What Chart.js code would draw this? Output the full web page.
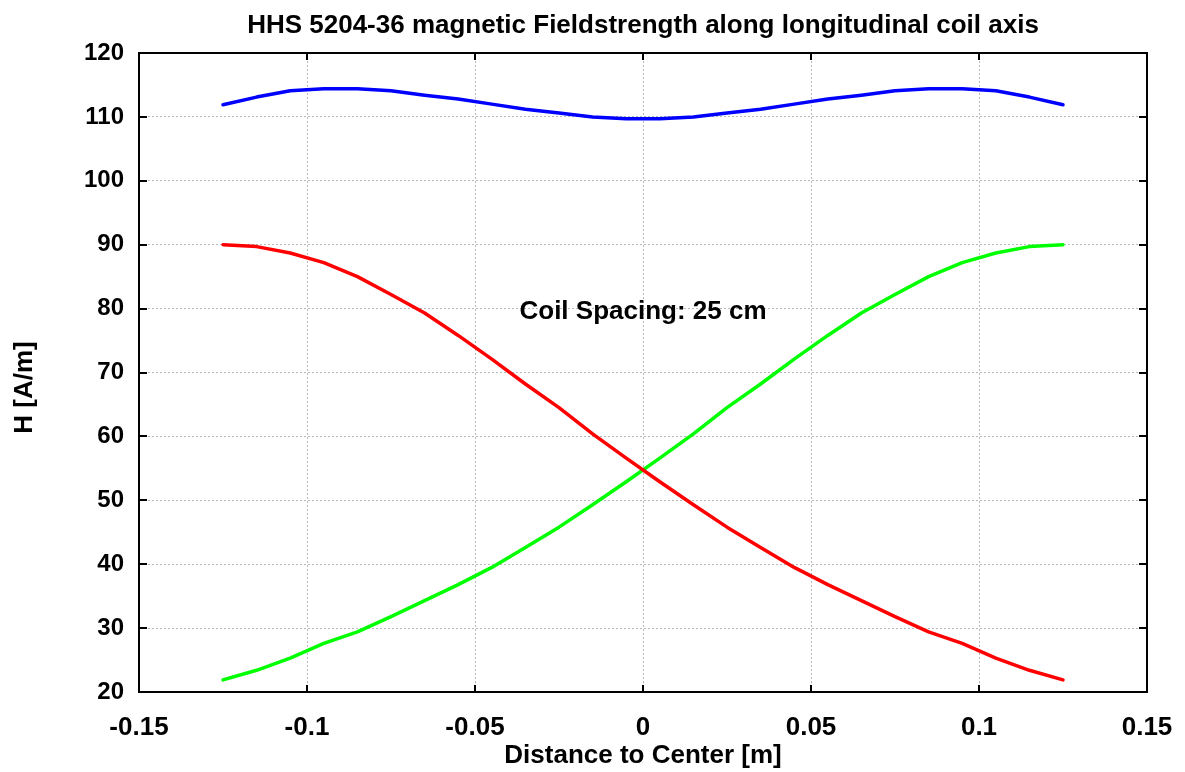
<!DOCTYPE html>
<html>
<head>
<meta charset="utf-8">
<script src="https://cdn.jsdelivr.net/npm/chart.js"></script>
<style>
  body { margin: 0; background: #fff; }
  #wrap { width: 1185px; height: 772px; position: relative; }
</style>
</head>
<body>
<div id="wrap"><canvas id="fieldChart"></canvas></div>
<script>
// positions along the coil axis [m]
const xPos = [-0.125, -0.115, -0.105, -0.095, -0.085, -0.075, -0.065, -0.055, -0.045, -0.035, -0.025, -0.015, -0.005,
              0.005, 0.015, 0.025, 0.035, 0.045, 0.055, 0.065, 0.075, 0.085, 0.095, 0.105, 0.115, 0.125];

// H [A/m] - both coils together
const totalH = [111.9, 113.1, 114.1, 114.4, 114.4, 114.1, 113.4, 112.8, 112.0, 111.2, 110.6, 110.0, 109.7,
                109.7, 110.0, 110.6, 111.2, 112.0, 112.8, 113.4, 114.1, 114.4, 114.4, 114.1, 113.1, 111.9];
// left coil alone
const leftH = [90.0, 89.7, 88.7, 87.2, 85.0, 82.2, 79.3, 75.8, 72.1, 68.2, 64.5, 60.4, 56.6,
               52.9, 49.3, 45.8, 42.6, 39.5, 36.8, 34.3, 31.8, 29.4, 27.6, 25.3, 23.4, 21.9];
// right coil alone
const rightH = [21.9, 23.4, 25.3, 27.6, 29.4, 31.8, 34.3, 36.8, 39.5, 42.6, 45.8, 49.3, 52.9,
                56.6, 60.4, 64.5, 68.2, 72.1, 75.8, 79.3, 82.2, 85.0, 87.2, 88.7, 89.7, 90.0];

const xTicks = [-0.15, -0.1, -0.05, 0, 0.05, 0.1, 0.15];
const yTicks = [20, 30, 40, 50, 60, 70, 80, 90, 100, 110, 120];

const titleText = 'HHS 5204-36 magnetic Fieldstrength along longitudinal coil axis';
const yTitle = 'H [A/m]';
const noteText = 'Coil Spacing: 25 cm';
const noteAt = [0, 80];

const FONT = '"Liberation Sans", Arial, Helvetica, sans-serif';

function pts(ys) {
    return xPos.map((x, i) => ({ x: x, y: ys[i] }));
}

function lineSet(ys, color) {
    return {
        data: pts(ys),
        borderColor: color,
        backgroundColor: color,
        borderWidth: 3.5,
        pointRadius: 0,
        tension: 0,
        borderCapStyle: 'round',
        borderJoinStyle: 'round'
    };
}

// box around the plot, inward ticks, title texts and the note
const framePlugin = {
    id: 'frame',
    afterDraw(chart) {
        const ctx = chart.ctx;
        const a = chart.chartArea;
        const sx = chart.scales.x, sy = chart.scales.y;
        const midX = (a.left + a.right) / 2;
        ctx.save();
        ctx.strokeStyle = '#000';
        ctx.lineWidth = 2;
        ctx.strokeRect(a.left, a.top, a.right - a.left, a.bottom - a.top);
        ctx.beginPath();
        xTicks.forEach(v => {
            const px = Math.round(sx.getPixelForValue(v));
            ctx.moveTo(px, a.bottom); ctx.lineTo(px, a.bottom - 7);
            ctx.moveTo(px, a.top); ctx.lineTo(px, a.top + 7);
        });
        yTicks.forEach(v => {
            const py = Math.round(sy.getPixelForValue(v));
            ctx.moveTo(a.left, py); ctx.lineTo(a.left + 8, py);
            ctx.moveTo(a.right, py); ctx.lineTo(a.right - 8, py);
        });
        ctx.stroke();

        ctx.fillStyle = '#000';
        ctx.font = 'bold 26px ' + FONT;
        ctx.textAlign = 'center';
        ctx.textBaseline = 'alphabetic';
        ctx.fillText(titleText, midX, a.top - 20);
        ctx.fillText(noteText, sx.getPixelForValue(noteAt[0]), sy.getPixelForValue(noteAt[1]) + 10);

        ctx.translate(25, (a.top + a.bottom) / 2 + 15);
        ctx.rotate(-Math.PI / 2);
        ctx.textBaseline = 'middle';
        ctx.fillText(yTitle, 0, 0);
        ctx.restore();
    }
};

const gridStyle = {
    color: '#b8b8b8',
    lineWidth: 1,
    drawTicks: false
};

new Chart(document.getElementById('fieldChart'), {
    type: 'line',
    data: {
        datasets: [
            lineSet(totalH, '#0000ff'),
            lineSet(leftH, '#ff0000'),
            lineSet(rightH, '#00ff00')
        ]
    },
    options: {
        responsive: true,
        maintainAspectRatio: false,
        animation: false,
        layout: { padding: { left: 0, right: 38, top: 53, bottom: 0 } },
        plugins: {
            legend: { display: false },
            tooltip: { enabled: false },
            title: { display: false }
        },
        scales: {
            x: {
                type: 'linear',
                min: -0.15,
                max: 0.15,
                afterBuildTicks: s => { s.ticks = xTicks.map(v => ({ value: v })); },
                afterFit: s => { s.height = 80; s.paddingLeft = 0; s.paddingRight = 0; },
                ticks: {
                    color: '#000',
                    padding: 20,
                    maxRotation: 0,
                    font: { family: FONT, size: 26, weight: 'bold' },
                    callback: v => String(v)
                },
                grid: gridStyle,
                border: { display: true, color: '#000', width: 2, dash: [2, 2] },
                title: {
                    display: true,
                    text: 'Distance to Center [m]',
                    color: '#000',
                    font: { family: FONT, size: 26, weight: 'bold' },
                    padding: { top: 0, bottom: 1 }
                }
            },
            y: {
                min: 20,
                max: 120,
                afterBuildTicks: s => { s.ticks = yTicks.map(v => ({ value: v })); },
                afterFit: s => { s.width = 139; s.paddingTop = 0; s.paddingBottom = 0; },
                ticks: {
                    color: '#000',
                    padding: 15,
                    font: { family: FONT, size: 24, weight: 'bold' }
                },
                grid: gridStyle,
                border: { display: true, color: '#000', width: 2, dash: [2, 2] }
            }
        }
    },
    plugins: [framePlugin]
});
</script>
</body>
</html>
